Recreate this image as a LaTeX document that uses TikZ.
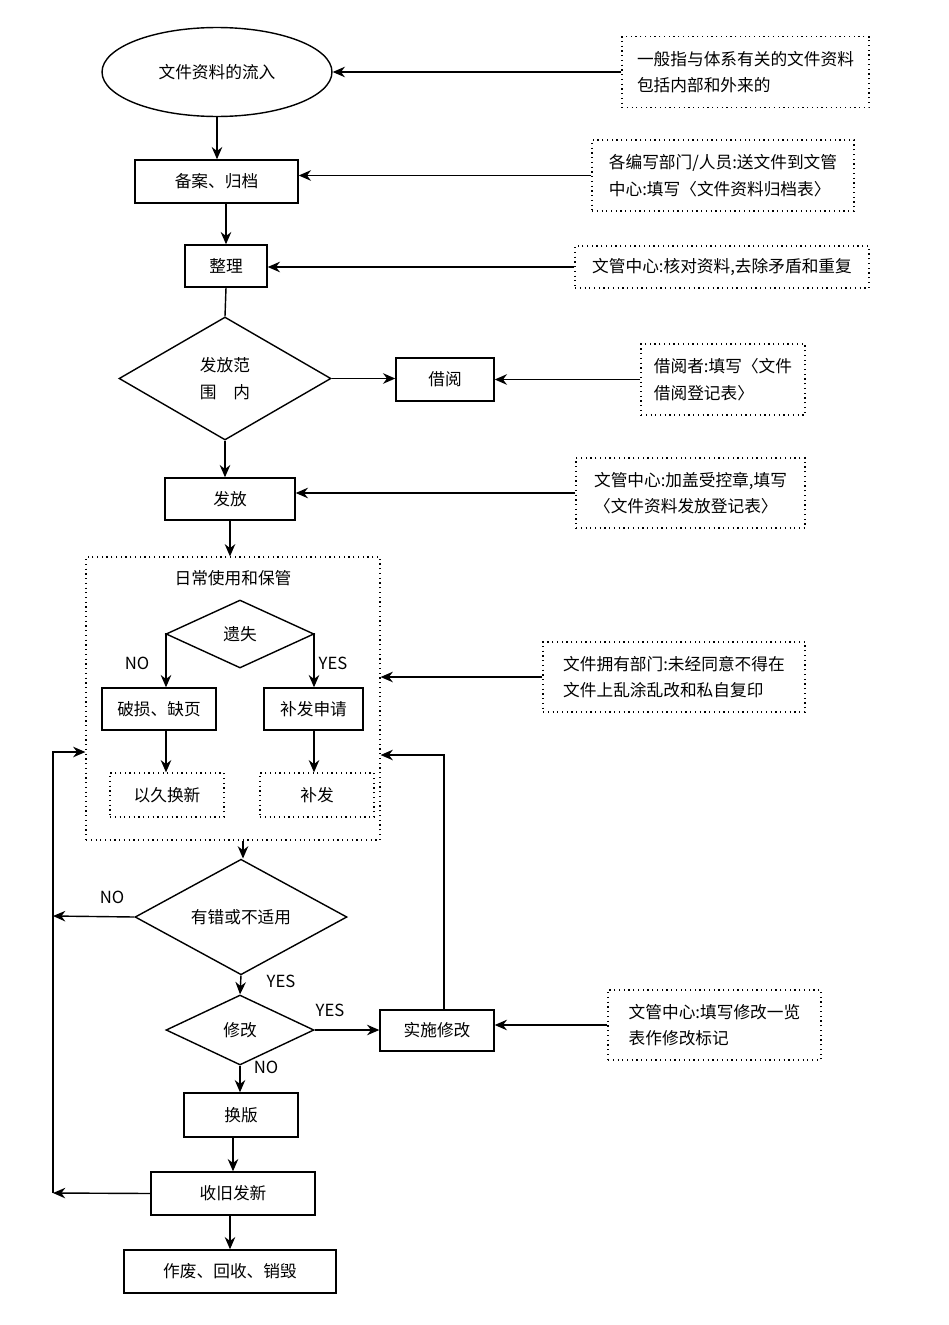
\documentclass[tikz,border=0pt]{standalone}
\usepackage{fontspec}
\setmainfont{Noto Sans CJK SC}
\usetikzlibrary{shapes.geometric,arrows.meta}
\begin{document}
\begin{tikzpicture}[x=0.02cm,y=-0.02cm,
  every node/.style={font=\fontsize{9.5}{15}\selectfont},
  box/.style={draw,line width=0.8pt,inner sep=0pt},
  note/.style={draw,dotted,line width=0.7pt,inner sep=0pt,align=left},
  dbox/.style={draw,dotted,line width=0.7pt,inner sep=0pt},
  dia/.style={draw,diamond,line width=0.8pt,inner sep=0pt,align=center},
  arr/.style={-{Stealth[length=7pt,width=6pt]},line width=0.8pt},
  ln/.style={line width=0.8pt}]
\useasboundingbox (0,0) rectangle (949,1325);
% main chain
\node[draw,ellipse,line width=0.8pt,minimum width=4.6cm,minimum height=1.78cm] (ell) at (217,72) {文件资料的流入};
\node[box,minimum width=3.26cm,minimum height=0.86cm] (ba) at (216.5,181.5) {备案、归档};
\node[box,minimum width=1.64cm,minimum height=0.84cm] (zl) at (226,266) {整理};
\node[dia,minimum width=4.24cm,minimum height=2.46cm] (ff) at (225,378.5) {发放范\\围\quad 内};
\node[box,minimum width=1.96cm,minimum height=0.86cm] (jy) at (445,379.5) {借阅};
\node[box,minimum width=2.6cm,minimum height=0.84cm] (fa) at (230,499) {发放};
\node[dbox,minimum width=5.88cm,minimum height=5.66cm] (rc) at (233,698.5) {};
\node (rct) at (233,578) {日常使用和保管};
\node[dia,minimum width=2.96cm,minimum height=1.36cm] (ys) at (240,634) {遗失};
\node[box,minimum width=2.28cm,minimum height=0.84cm] (ps) at (159,709) {破损、缺页};
\node[box,minimum width=1.98cm,minimum height=0.84cm] (bf) at (313.5,709) {补发申请};
\node[dbox,minimum width=2.28cm,minimum height=0.88cm] (yj) at (167,795) {以久换新};
\node[dbox,minimum width=2.28cm,minimum height=0.88cm] (bfa) at (317,795) {补发};
\node[dia,minimum width=4.24cm,minimum height=1.96cm] (yc) at (241,917) {有错或不适用};
\node[dia,minimum width=2.96cm,minimum height=1.4cm] (xg) at (240,1030) {修改};
\node[box,minimum width=2.28cm,minimum height=0.82cm] (ss) at (437,1030.5) {实施修改};
\node[box,minimum width=2.28cm,minimum height=0.88cm] (hb) at (241,1115) {换版};
\node[box,minimum width=3.28cm,minimum height=0.86cm] (sj) at (233,1193.5) {收旧发新};
\node[box,minimum width=4.24cm,minimum height=0.86cm] (zf) at (230,1271.5) {作废、回收、销毁};
% notes
\node[note,minimum width=4.94cm,minimum height=1.42cm] (n1) at (745.5,72) {一般指与体系有关的文件资料\\包括内部和外来的};
\node[note,minimum width=5.24cm,minimum height=1.42cm] (n2) at (723,175.5) {各编写部门/人员:送文件到文管\\中心:填写〈文件资料归档表〉};
\node[note,minimum width=5.88cm,minimum height=0.84cm] (n3) at (722,267) {文管中心:核对资料,去除矛盾和重复};
\node[note,minimum width=3.28cm,minimum height=1.42cm] (n4) at (723,379.5) {借阅者:填写〈文件\\借阅登记表〉};
\node[note,minimum width=4.58cm,minimum height=1.4cm] (n5) at (690.5,493) {文管中心:加盖受控章,填写\\〈文件资料发放登记表〉};
\node[note,minimum width=5.24cm,minimum height=1.4cm] (n6) at (674,677) {文件拥有部门:未经同意不得在\\文件上乱涂乱改和私自复印};
\node[note,minimum width=4.26cm,minimum height=1.4cm] (n7) at (714.5,1025) {文管中心:填写修改一览\\表作修改标记};
% labels
\node (l1) at (137,663) {NO};
\node (l2) at (333,663) {YES};
\node (l3) at (112,897) {NO};
\node (l4) at (281,981) {YES};
\node (l5) at (330,1010) {YES};
\node (l6) at (266,1067) {NO};
% coordinates
\coordinate (c1) at (53,916);
\coordinate (c2) at (53,752);
\coordinate (c3) at (53,1193);
\coordinate (c4) at (444,755);
\coordinate (c5) at (166,634);
\coordinate (c6) at (314,634);
% arrows
\draw[arr] (n1.west) -- (ell.east);
\draw[arr] (n2.west) -- (ba.east|-n2.west);
\draw[arr] (n3.west) -- (zl.east|-n3.west);
\draw[arr] (n4.west) -- (jy.east|-n4.west);
\draw[arr] (n5.west) -- (fa.east|-n5.west);
\draw[arr] (n6.west) -- (rc.east|-n6.west);
\draw[arr] (n7.west) -- (ss.east|-n7.west);
\draw[arr] (ell.south) -- (ba.north-|ell.south);
\draw[arr] (ba.south-|zl.north) -- (zl.north);
\draw[ln] (zl.south) -- (ff.north);
\draw[arr] (ff.east) -- (jy.west|-ff.east);
\draw[arr] (ff.south) -- (fa.north-|ff.south);
\draw[arr] (fa.south) -- (rc.north-|fa.south);
\draw[arr] (ys.west) -- (c5) -- (ps.north-|c5);
\draw[arr] (ys.east) -- (c6) -- (bf.north-|c6);
\draw[arr] (ps.south-|c5) -- (yj.north-|c5);
\draw[arr] (bf.south-|c6) -- (bfa.north-|c6);
\draw[arr] (rc.south-|243,0) -- (yc.north-|243,0);
\draw[arr] (yc.west) -- (c1);
\draw[arr] (yc.south) -- (xg.north);
\draw[arr] (xg.east) -- (ss.west|-xg.east);
\draw[arr] (ss.north-|c4) -- (c4) -- (rc.east|-c4);
\draw[arr] (xg.south) -- (hb.north-|xg.south);
\draw[arr] (hb.south-|sj.north) -- (sj.north);
\draw[arr] (sj.west) -- (c3);
\draw[arr] (c3) -- (c2) -- (rc.west|-c2);
\draw[arr] (sj.south-|zf.north) -- (zf.north);
\end{tikzpicture}
\end{document}
